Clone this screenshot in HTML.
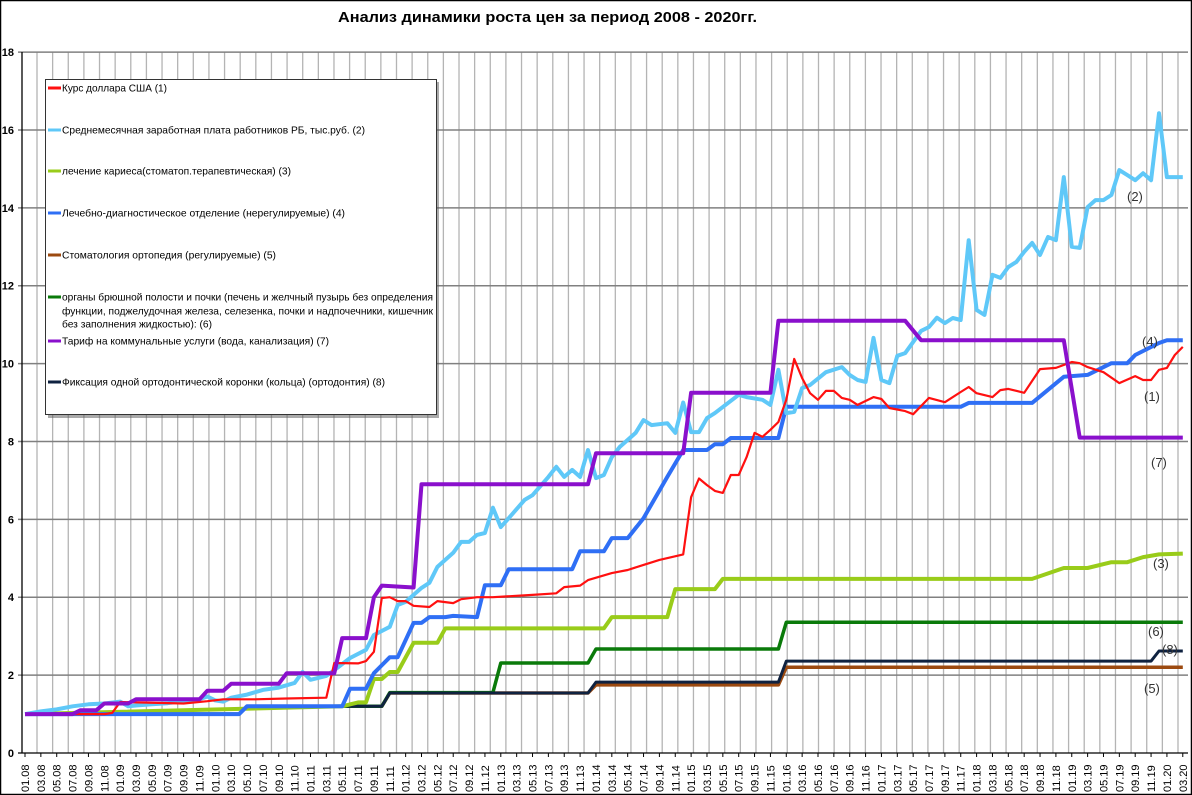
<!DOCTYPE html>
<html><head><meta charset="utf-8"><style>
html,body{margin:0;padding:0;background:#fff;}
svg{display:block;font-family:"Liberation Sans","DejaVu Sans",sans-serif;}
</style></head><body>
<svg id="chart" width="1192" height="795" viewBox="0 0 1192 795" xmlns="http://www.w3.org/2000/svg">
<rect x="0.5" y="0.5" width="1191" height="794" fill="#fff" stroke="#000" stroke-width="1.5"/>
<text x="338" y="22" font-size="15" font-weight="bold" textLength="419" lengthAdjust="spacingAndGlyphs">Анализ динамики роста цен за период 2008 - 2020гг.</text>
<g id="grid"></g>
<g id="axes"></g>
<g id="series"></g>
<g id="legend">
<rect x="48" y="82" width="391" height="336" fill="#555" opacity="0.5"/>
<rect x="45.5" y="79.5" width="391" height="335" fill="#fff" stroke="#333" stroke-width="1"/>
</g>
<g id="annotations" font-size="13" fill="#333"></g>
</svg>
<script>
const monthLabels=["01.08","03.08","05.08","07.08","09.08","11.08","01.09","03.09","05.09","07.09","09.09","11.09","01.10","03.10","05.10","07.10","09.10","11.10","01.11","03.11","05.11","07.11","09.11","11.11","01.12","03.12","05.12","07.12","09.12","11.12","01.13","03.13","05.13","07.13","09.13","11.13","01.14","03.14","05.14","07.14","09.14","11.14","01.15","03.15","05.15","07.15","09.15","11.15","01.16","03.16","05.16","07.16","09.16","11.16","01.17","03.17","05.17","07.17","09.17","11.17","01.18","03.18","05.18","07.18","09.18","11.18","01.19","03.19","05.19","07.19","09.19","11.19","01.20","03.20"];
const yTicks=[0,2,4,6,8,10,12,14,16,18];

const usdMonths=[0,10,11,12,20,23,25,29,33,38,39,42,43,44,45,46,47,48,49,51,52,54,55,57,59,64,67,68,70,71,74,76,78,80,83,84,85,86,87,88,89,90,91,92,93,94,95,96,97,98,99,100,101,102,103,104,105,107,108,109,111,112,114,116,118,119,120,122,123,124,126,128,130,132,133,134,136,138,140,141,142,143,144,145,146];
const usdValues=[1.0,1.0,1.03,1.31,1.27,1.33,1.38,1.38,1.4,1.42,2.31,2.3,2.36,2.6,3.98,4.0,3.9,3.9,3.78,3.75,3.9,3.85,3.95,4.0,4.0,4.06,4.1,4.26,4.3,4.44,4.62,4.7,4.83,4.96,5.1,6.57,7.05,6.88,6.73,6.68,7.14,7.14,7.6,8.22,8.12,8.3,8.5,9.07,10.12,9.63,9.24,9.07,9.3,9.3,9.12,9.07,8.94,9.14,9.09,8.86,8.78,8.7,9.12,9.01,9.27,9.4,9.24,9.14,9.32,9.35,9.25,9.86,9.89,10.04,10.01,9.91,9.78,9.5,9.68,9.58,9.58,9.84,9.89,10.22,10.43];

const salaryMonths=[0,2,4,6,8,10,12,13,14,16,18,20,22,23,24,25,26,28,30,32,34,35,36,38,39,41,43,44,46,47,48,50,51,52,54,55,56,57,58,59,60,61,63,64,66,67,68,69,70,71,72,73,74,75,77,78,79,81,82,83,84,85,86,87,90,91,93,94,95,96,97,98,99,101,103,104,105,106,107,108,109,110,111,113,114,115,116,117,118,119,120,121,122,123,124,125,126,127,128,129,130,131,132,133,134,135,136,137,138,139,140,141,142,143,144,146];
const salaryValues=[1.0,1.07,1.12,1.2,1.25,1.27,1.32,1.2,1.22,1.25,1.28,1.33,1.38,1.45,1.35,1.32,1.42,1.5,1.62,1.68,1.8,2.08,1.88,1.98,2.13,2.44,2.65,3.03,3.24,3.8,3.88,4.24,4.37,4.78,5.14,5.42,5.42,5.6,5.65,6.3,5.8,6.03,6.5,6.62,7.09,7.35,7.09,7.27,7.09,7.78,7.06,7.14,7.6,7.86,8.22,8.55,8.42,8.47,8.22,9.0,8.24,8.24,8.6,8.73,9.2,9.14,9.07,8.94,9.84,8.73,8.76,9.37,9.45,9.78,9.91,9.71,9.58,9.53,10.66,9.58,9.5,10.2,10.27,10.84,10.94,11.18,11.04,11.17,11.12,13.17,11.38,11.25,12.28,12.2,12.48,12.61,12.87,13.1,12.79,13.25,13.17,14.79,13.0,12.97,14.02,14.2,14.2,14.33,14.97,14.84,14.71,14.89,14.71,16.43,14.79,14.79];

const cariesMonths=[0,40,42,43,44,45,46,47,49,52,53,73,74,81,82,87,88,127,131,134,137,139,141,143,146];
const cariesValues=[1.0,1.2,1.3,1.3,1.9,1.9,2.08,2.08,2.83,2.83,3.2,3.2,3.49,3.49,4.21,4.21,4.47,4.47,4.75,4.75,4.9,4.9,5.03,5.1,5.12];

const diagMonths=[0,27,28,40,41,43,44,46,47,49,50,51,53,54,57,58,60,61,69,70,73,74,76,78,81,83,86,87,88,89,95,96,118,119,127,131,134,137,139,140,143,144,146];
const diagValues=[1.0,1.0,1.2,1.2,1.65,1.65,2.05,2.46,2.46,3.34,3.34,3.49,3.49,3.52,3.49,4.31,4.31,4.72,4.72,5.18,5.18,5.52,5.52,6.03,7.09,7.78,7.78,7.93,7.93,8.09,8.09,8.89,8.89,8.99,8.99,9.66,9.71,10.01,10.01,10.22,10.53,10.6,10.6];

const orthoMonths=[0,27,28,45,46,71,72,95,96,146];
const orthoValues=[1.0,1.0,1.2,1.2,1.54,1.54,1.75,1.75,2.2,2.2];

const abdomenMonths=[0,27,28,45,46,59,60,71,72,95,96,146];
const abdomenValues=[1.0,1.0,1.2,1.2,1.55,1.55,2.31,2.31,2.67,2.67,3.36,3.36];

const tariffMonths=[0,6,7,9,10,13,14,22,23,25,26,32,33,39,40,43,44,45,49,50,71,72,83,84,94,95,111,113,131,133,146];
const tariffValues=[1.0,1.0,1.1,1.1,1.27,1.27,1.38,1.38,1.6,1.6,1.78,1.78,2.05,2.05,2.95,2.95,4.0,4.3,4.25,6.9,6.9,7.7,7.7,9.25,9.25,11.1,11.1,10.6,10.6,8.1,8.1];

const crownMonths=[0,27,28,45,46,71,72,95,96,142,143,146];
const crownValues=[1.0,1.0,1.2,1.2,1.54,1.54,1.82,1.82,2.36,2.36,2.62,2.62];

const seriesNames=["Курс доллара США (1)","Среднемесячная заработная плата работников РБ, тыс.руб. (2)","лечение кариеса(стоматоп.терапевтическая) (3)","Лечебно-диагностическое  отделение (нерегулируемые) (4)","Стоматология  ортопедия  (регулируемые) (5)","органы брюшной полости и почки (печень и желчный пузырь без определения","Тариф на коммунальные услуги (вода, канализация) (7)","Фиксация одной ортодонтической коронки (кольца) (ортодонтия)  (8)"];

const NS="http://www.w3.org/2000/svg";
const X0=25, DX=7.93, Y0=753, DY=38.94;
function xScale(i){return X0+i*DX;}
function yScale(v){return Y0-v*DY;}
function mk(tag,attrs,parent){const e=document.createElementNS(NS,tag);for(const k in attrs)e.setAttribute(k,attrs[k]);parent.appendChild(e);return e;}

const grid=document.getElementById('grid');
for(let k=0;k<74;k++){
  const gx=37+k*15.63;
  const l=mk('line',{x1:gx,x2:gx,y1:52,y2:753,stroke:'#b4b4b4','stroke-width':1.3},grid);
  
  
}
yTicks.forEach(t=>{
  const y=yScale(t);
  const l=mk('line',{x1:18,x2:1188,y1:y,y2:y,stroke:t===0?'#000':'#808080','stroke-width':t===0?1.3:1.5},grid);
  
  
  const tx=mk('text',{x:14,y:y+4,'font-size':11,'font-weight':'bold','text-anchor':'end'},grid);
  tx.textContent=t;
  
  
});
const axes=document.getElementById('axes');
const ya=mk('line',{x1:22,x2:22,y1:52,y2:753,stroke:'#000','stroke-width':1.3},axes);


monthLabels.forEach((lab,j)=>{
  const x=xScale(j*2);
  mk('line',{x1:x,x2:x,y1:753,y2:757,stroke:'#000','stroke-width':1},axes);
  const tx=mk('text',{x:0,y:0,'font-size':11,transform:`translate(${x+4},792) rotate(-90)`},axes);
  tx.textContent=lab;
  
  
});

const series=document.getElementById('series');
function drawLine(months,values,color,w,name){
  const pts=months.map((m,k)=>xScale(m).toFixed(1)+','+yScale(values[k]).toFixed(1)).join(' ');
  const p=mk('polyline',{points:pts,fill:'none',stroke:color,'stroke-width':w,'stroke-linejoin':'round'},series);
  
  
}
drawLine(orthoMonths,orthoValues,'#9c4a10',3.5,'line-orthopedics');
drawLine(abdomenMonths,abdomenValues,'#0a7a0a',3.5,'line-abdominal-ultrasound');
drawLine(crownMonths,crownValues,'#0f2240',3,'line-orthodontic-crown');
drawLine(cariesMonths,cariesValues,'#99cc1a',4,'line-caries-treatment');
drawLine(diagMonths,diagValues,'#2f6ff5',4,'line-diagnostics');
drawLine(salaryMonths,salaryValues,'#5fc8f8',4,'line-average-salary');
drawLine(usdMonths,usdValues,'#ff1010',2.2,'line-usd-rate');
drawLine(tariffMonths,tariffValues,'#8a10cc',4,'line-utility-tariff');

const legend=document.getElementById('legend');
const legendColors=['#ff1010','#5fc8f8','#99cc1a','#2f6ff5','#9c4a10','#0a7a0a','#8a10cc','#0f2240'];
const legendY=[88,130,171,213,255,297,341,382];
const legendW=[105,303,229,283,214,371,267,323];
legendY.forEach((y,k)=>{
  const sw=mk('line',{x1:48,x2:61,y1:y,y2:y,stroke:legendColors[k],'stroke-width':3},legend);
  
  
  const tx=mk('text',{x:62,y:y+3.5,'font-size':10.5,textLength:legendW[k],lengthAdjust:'spacingAndGlyphs'},legend);
  tx.textContent=seriesNames[k];
  
  
});
const extra=[["функции, поджелудочная железа, селезенка, почки и надпочечники, кишечник",311,371],["без заполнения жидкостью): (6)",324,150]];
extra.forEach(e=>{
  const tx=mk('text',{x:62,y:e[1]+3.5,'font-size':10.5,textLength:e[2],lengthAdjust:'spacingAndGlyphs'},legend);
  tx.textContent=e[0];
  
  
});

const ann=document.getElementById('annotations');
const annText=["(2)","(4)","(1)","(7)","(3)","(6)","(8)","(5)"];
const annX=[1127,1142,1144,1151,1153,1148,1162,1144];
const annY=[201,346,401,467,568,636,654,693];
annText.forEach((t,k)=>{
  const tx=mk('text',{x:annX[k],y:annY[k]},ann);
  tx.textContent=t;
  
  
});
</script>
</body></html>
